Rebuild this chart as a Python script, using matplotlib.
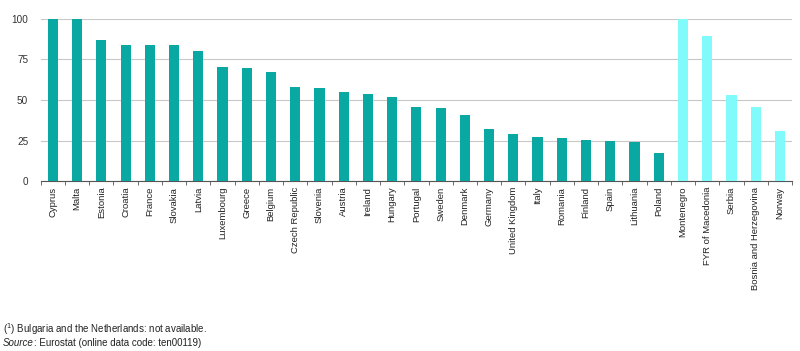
import numpy as np
import matplotlib
matplotlib.use('Agg')
import matplotlib.pyplot as plt

plt.rcParams['font.family'] = ['Liberation Sans', 'DejaVu Sans']

countries = ['Cyprus', 'Malta', 'Estonia', 'Croatia', 'France', 'Slovakia', 'Latvia',
             'Luxembourg', 'Greece', 'Belgium', 'Czech Republic', 'Slovenia', 'Austria',
             'Ireland', 'Hungary', 'Portugal', 'Sweden', 'Denmark', 'Germany',
             'United Kingdom', 'Italy', 'Romania', 'Finland', 'Spain', 'Lithuania', 'Poland']
values = [100, 100, 87, 84, 84, 84, 80, 70.4, 70, 67, 58.2, 57.2, 55.1, 53.7, 51.9,
          45.9, 44.9, 40.9, 32.1, 29.2, 27.2, 26.5, 25.3, 24.7, 24.1, 17.3]

others = ['Montenegro', 'FYR of Macedonia', 'Serbia', 'Bosnia and Herzegovina', 'Norway']
other_values = [100, 89.7, 53.1, 45.9, 31]

teal = '#0AA8A2'
cyan = '#80FAFA'

fig = plt.figure(figsize=(8, 3.51), dpi=100)
ax = fig.add_axes([0.051, 0.484, 0.939, 0.462])

labels = countries + others
x = np.arange(len(labels))
ax.bar(x[:len(countries)], values, width=0.42, color=teal, zorder=3)
ax.bar(x[len(countries):], other_values, width=0.42, color=cyan, zorder=3)

ax.set_xlim(-0.5, len(labels) - 0.5)
ax.set_ylim(0, 100)
ax.set_yticks([0, 25, 50, 75, 100])
ax.yaxis.grid(True, color='#c8c8c8', linewidth=0.8, zorder=0)
for s in ['top', 'right', 'left']:
    ax.spines[s].set_visible(False)
ax.spines['bottom'].set_color('#555555')
ax.tick_params(axis='y', length=0, labelsize=7.2, colors='#333333', pad=9)

ax.set_xticks(x)
ax.set_xticklabels(labels, rotation=90, fontsize=6.8, color='#222222')
ax.tick_params(axis='x', length=0, pad=4)
ax.set_xticks(np.arange(len(labels) + 1) - 0.5, minor=True)
ax.tick_params(axis='x', which='minor', length=3, color='#555555', direction='out')

fig.text(0.004, 0.052, r'($^1$) Bulgaria and the Netherlands: not available.',
         fontsize=7, color='#222222')
src = fig.text(0.004, 0.015, 'Source', fontsize=7, style='italic', color='#222222')
ax.annotate(': Eurostat (online data code: ten00119)', xy=(1, 0), xycoords=src,
            fontsize=7, color='#222222', va='bottom', ha='left')

fig.savefig('out.png', dpi=100)
